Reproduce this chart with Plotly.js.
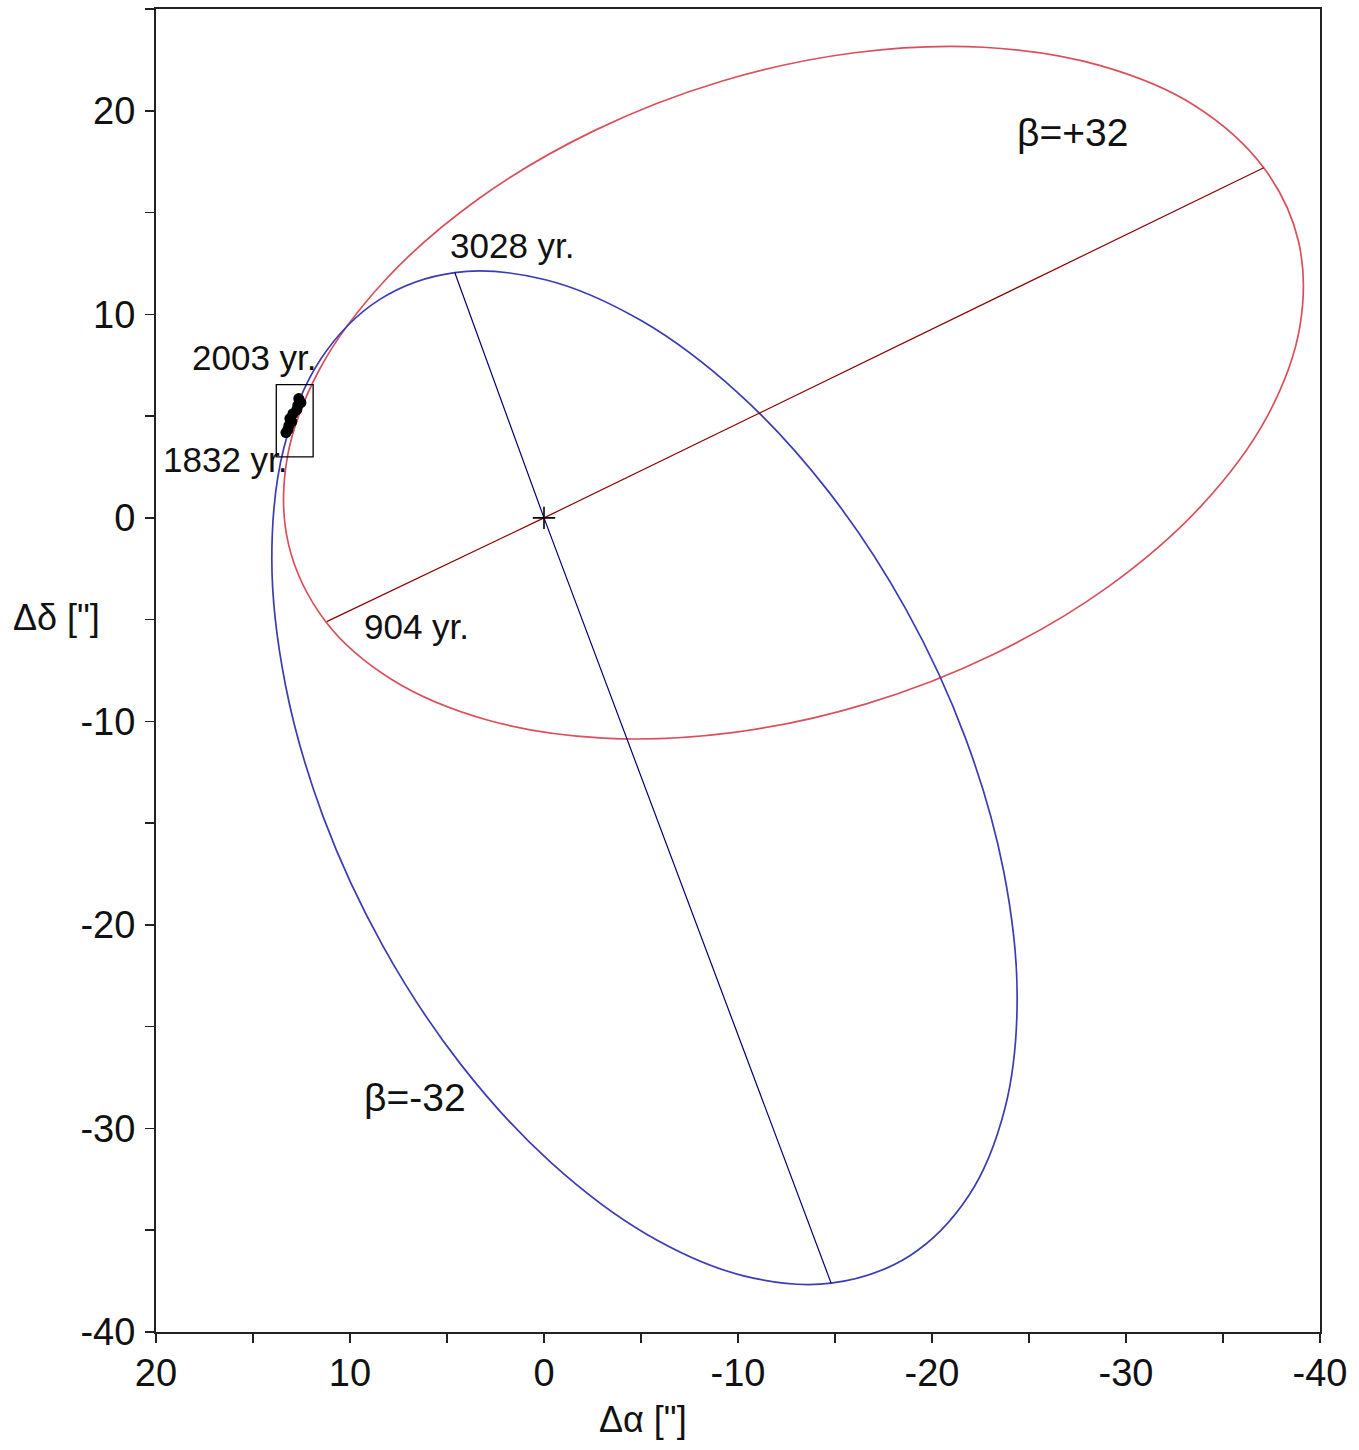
<!DOCTYPE html>
<html>
<head>
<meta charset="utf-8">
<script src="https://cdn.plot.ly/plotly-3.0.1.min.js"></script>
<style>
  html, body { margin: 0; padding: 0; background: #fff; }
  #plot { width: 1359px; height: 1450px; }
</style>
</head>
<body>
<div id="plot"></div>
<script>
// ─────────────────────────────────────────────────────
// Data (arcsec)
// ─────────────────────────────────────────────────────

// apparent orbit, beta = +32
const redOrbitX = [-37.1, -38.89, -38.96, -37.26, -33.89, -29.09, -23.18, -16.57, -9.71, -3.06, 2.92, 7.83,
    11.25, 13.17, 13.24, 11.54, 8.17, 3.37, -2.54, -9.15, -16.01, -22.66, -28.64, -33.55, -37.1];
const redOrbitY = [17.2, 13.59, 9.38, 4.95, 0.60, -3.38, -6.70, -9.15, -10.55, -10.82, -9.93, -7.95,
    -5.1, -1.29, 2.92, 7.35, 11.70, 15.68, 19.00, 21.45, 22.85, 23.12, 22.23, 20.25, 17.2];

// apparent orbit, beta = -32
const blueOrbitX = [-14.8, -18.86, -21.89, -23.77, -24.39, -23.69, -21.74, -18.66, -14.66, -10.01, -5.03, -0.07,
    4.6, 8.50, 11.53, 13.41, 14.03, 13.33, 11.38, 8.30, 4.30, -0.35, -5.33, -10.29, -14.8];
const blueOrbitY = [-37.6, -36.25, -33.31, -28.97, -23.52, -17.34, -10.86, -4.50, 1.30, 6.13, 9.68, 11.70,
    12.05, 10.71, 7.77, 3.43, -2.02, -8.20, -14.69, -21.04, -26.84, -31.67, -35.22, -37.24, -37.6];

// lines of apsides through the primary
const redApsX = [11.2, 0, -37.1];
const redApsY = [-5.1, 0, 17.2];
const blueApsX = [4.6, 0, -14.8];
const blueApsY = [12.05, 0, -37.6];

// observed positions 1832..2003
const obsX = [12.64, 12.53, 12.69, 12.74, 12.94, 13.10, 13.00, 13.15, 13.20, 13.30];
const obsY = [5.86, 5.66, 5.52, 5.32, 5.12, 4.88, 4.73, 4.53, 4.34, 4.19];

// box round the observations
const boxX = [13.8, 11.9];
const boxY = [3.0, 6.55];

// labels
const labelText = ['3028 yr.', '2003 yr.', '1832 yr.', '904 yr.'];
const labelX = [4.95, 18.25, 19.75, 9.4];
const labelY = [13.37, 7.87, 2.86, -5.33];

const betaText = ['β=+32', 'β=-32'];
const betaX = [-24.3, 9.4];
const betaY = [18.92, -28.46];

const xTicks = [20, 10, 0, -10, -20, -30, -40];
const yTicks = [20, 10, 0, -10, -20, -30, -40];

// ─────────────────────────────────────────────────────
// Plot
// ─────────────────────────────────────────────────────
const FONT = 'Liberation Sans, Arial, Helvetica, sans-serif';

const traces = [
    { x: redOrbitX, y: redOrbitY, mode: 'lines', line: { color: '#d9505c', width: 1.7, shape: 'spline', smoothing: 1 } },
    { x: blueOrbitX, y: blueOrbitY, mode: 'lines', line: { color: '#3c3cb4', width: 1.7, shape: 'spline', smoothing: 1 } },
    { x: redApsX, y: redApsY, mode: 'lines', line: { color: '#8b0000', width: 1.2 } },
    { x: blueApsX, y: blueApsY, mode: 'lines', line: { color: '#000070', width: 1.2 } },
    { x: [0], y: [0], mode: 'markers', marker: { symbol: 'cross-thin', size: 16, line: { color: '#000', width: 1.6 } } },
    { x: obsX, y: obsY, mode: 'markers', marker: { symbol: 'circle', size: 11, color: '#000' } },
];

const annotations = [];
labelText.forEach((t, i) => annotations.push({
    x: labelX[i], y: labelY[i], xref: 'x', yref: 'y', text: t, showarrow: false,
    xanchor: 'left', yanchor: 'middle', font: { family: FONT, size: 35, color: '#111' }
}));
betaText.forEach((t, i) => annotations.push({
    x: betaX[i], y: betaY[i], xref: 'x', yref: 'y', text: t, showarrow: false,
    xanchor: 'left', yanchor: 'middle', font: { family: FONT, size: 39, color: '#111' }
}));
// axis titles: y title sits horizontally at the left
annotations.push({
    x: -0.125, y: -4.89, xref: 'paper', yref: 'y', text: 'Δδ ["]', showarrow: false,
    xanchor: 'left', yanchor: 'middle', font: { family: FONT, size: 36, color: '#111' }
});
annotations.push({
    x: -5.08, y: -0.0665, xref: 'x', yref: 'paper', text: 'Δα ["]', showarrow: false,
    xanchor: 'center', yanchor: 'middle', font: { family: FONT, size: 36, color: '#111' }
});

const axisCommon = {
    showline: true, mirror: true, linecolor: '#222', linewidth: 2,
    ticks: 'outside', ticklen: 9, tickwidth: 1.5, tickcolor: '#222',
    showgrid: false, zeroline: false,
    tickfont: { family: FONT, size: 38, color: '#111' },
    minor: { ticks: 'outside', dtick: 5, ticklen: 9, tickwidth: 1.5, tickcolor: '#222', showgrid: false },
    tickmode: 'array',
};

const layout = {
    width: 1359, height: 1450,
    margin: { l: 156, r: 39, t: 9, b: 118 },
    paper_bgcolor: '#fff', plot_bgcolor: '#fff',
    showlegend: false,
    xaxis: Object.assign({}, axisCommon, {
        range: [20, -40], autorange: false, tickvals: xTicks, ticktext: xTicks.map(String),
        ticklabelstandoff: -3,
    }),
    yaxis: Object.assign({}, axisCommon, {
        range: [-40, 25], autorange: false, tickvals: yTicks, ticktext: yTicks.map(String),
        ticklabelstandoff: 2,
    }),
    shapes: [{
        type: 'rect', xref: 'x', yref: 'y', x0: boxX[0], x1: boxX[1], y0: boxY[0], y1: boxY[1],
        line: { color: '#000', width: 1.3 }
    }],
    annotations: annotations,
};

Plotly.newPlot('plot', traces, layout, { staticPlot: true, displayModeBar: false });
</script>
</body>
</html>
